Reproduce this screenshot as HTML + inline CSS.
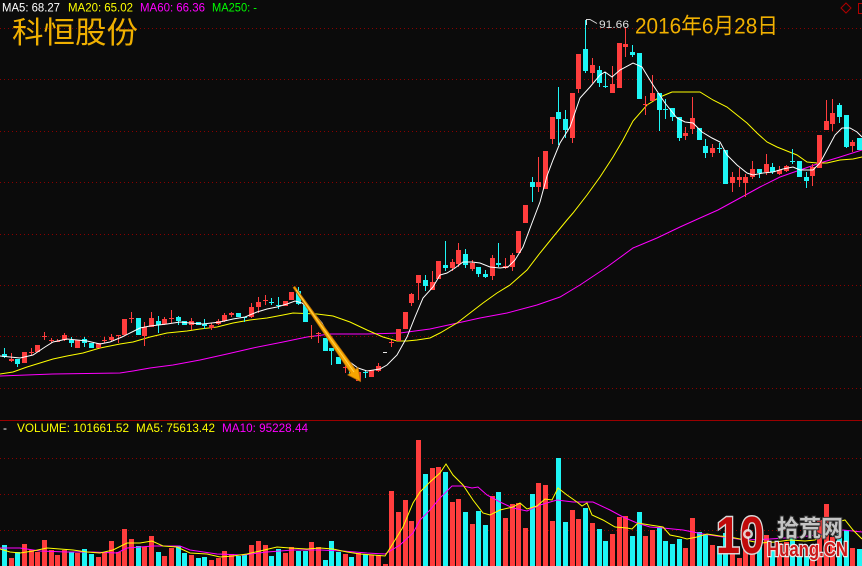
<!DOCTYPE html>
<html><head><meta charset="utf-8"><style>
html,body{margin:0;padding:0;background:#0b0b0b;}
svg{display:block;}
text{font-family:"Liberation Sans","Noto Sans CJK SC",sans-serif;}
</style></head><body>
<svg width="862" height="566" viewBox="0 0 862 566" xmlns="http://www.w3.org/2000/svg">
<rect x="0" y="0" width="862" height="566" fill="#0b0b0b"/>
<g stroke="#8a0000" stroke-width="1" stroke-dasharray="1 3">
<line x1="0" y1="28.5" x2="862" y2="28.5"/>
<line x1="0" y1="79.5" x2="862" y2="79.5"/>
<line x1="0" y1="131.5" x2="862" y2="131.5"/>
<line x1="0" y1="182.5" x2="862" y2="182.5"/>
<line x1="0" y1="234.5" x2="862" y2="234.5"/>
<line x1="0" y1="285.5" x2="862" y2="285.5"/>
<line x1="0" y1="336.5" x2="862" y2="336.5"/>
<line x1="0" y1="388.5" x2="862" y2="388.5"/>
<line x1="0" y1="458.5" x2="862" y2="458.5"/>
<line x1="0" y1="494.5" x2="862" y2="494.5"/>
<line x1="0" y1="530.5" x2="862" y2="530.5"/>
</g>
<rect x="0" y="420" width="862" height="1" fill="#9a0000"/>

<text x="2" y="11.5" font-size="11.5" fill="#ffffff" textLength="58" lengthAdjust="spacingAndGlyphs">MA5: 68.27</text>
<text x="68" y="11.5" font-size="11.5" fill="#ffff00" textLength="65" lengthAdjust="spacingAndGlyphs">MA20: 65.02</text>
<text x="140" y="11.5" font-size="11.5" fill="#ff00ff" textLength="65" lengthAdjust="spacingAndGlyphs">MA60: 66.36</text>
<text x="212" y="11.5" font-size="11.5" fill="#00ff00" textLength="45" lengthAdjust="spacingAndGlyphs">MA250: -</text>
<text x="12" y="43" font-size="30" fill="#f0b000" textLength="126" lengthAdjust="spacingAndGlyphs" style="font-family:'Noto Sans CJK SC',sans-serif">科恒股份</text>
<text x="635" y="33.5" font-size="22" fill="#f0b000" textLength="143" lengthAdjust="spacingAndGlyphs" style="font-family:'Liberation Sans','Noto Sans CJK SC',sans-serif">2016年6月28日</text>
<path d="M846,3 L851,8 L846,13 L841,8 Z" fill="none" stroke="#b00000" stroke-width="1"/>
<rect x="858.5" y="3.5" width="6" height="10" fill="none" stroke="#b00000" stroke-width="1"/>

<polyline fill="none" stroke="#ff00ff" stroke-width="1" points="0,376 53,374 120,373 133,371 150,368 173,365 200,360 227,354 253,348 283,342 307,337 330,334 367,334 400,333 430,329 453,324 480,318 507,313 537,305 560,297 580,285 607,267 633,248 657,238 680,227 700,218 718,210 740,198 760,187 780,177 800,170 820,163 840,157 862,150"/>
<polyline fill="none" stroke="#ffff00" stroke-width="1" points="0,374 13,372 27,367 40,363 53,359 67,356 83,353 100,348 120,344 133,342 150,337 167,333 187,331 200,329 217,327 233,323 250,320 267,318 283,315 293,313 317,314 333,316 350,322 367,330 383,337 397,341 407,341 417,340 430,338 440,333 457,323 470,313 483,303 497,293 510,285 527,270 540,253 553,237 567,220 573,213 587,195 600,177 613,157 623,140 633,121 647,105 660,97 672,92 683,92 700,92 713,100 727,107 737,115 747,123 757,133 767,142 777,147 787,151 797,155 807,162 817,163 827,163 840,160 853,159 862,157"/>

<g fill="#ff3d3d">
<rect x="9" y="359" width="5" height="2"/><rect x="11" y="353" width="1" height="9"/>
<rect x="22" y="352" width="5" height="11"/>
<rect x="29" y="352" width="5" height="1"/><rect x="31" y="348" width="1" height="7"/>
<rect x="35" y="345" width="5" height="7"/>
<rect x="42" y="336" width="5" height="1"/><rect x="44" y="332" width="1" height="8"/>
<rect x="49" y="340" width="5" height="1"/><rect x="51" y="338" width="1" height="5"/>
<rect x="55" y="341" width="5" height="1"/><rect x="57" y="339" width="1" height="3"/>
<rect x="62" y="335" width="5" height="5"/><rect x="64" y="333" width="1" height="8"/>
<rect x="75" y="340" width="5" height="8"/>
<rect x="96" y="343" width="5" height="5"/>
<rect x="102" y="340" width="5" height="1"/><rect x="104" y="337" width="1" height="6"/>
<rect x="109" y="337" width="5" height="3"/><rect x="111" y="334" width="1" height="7"/>
<rect x="116" y="335" width="5" height="1"/><rect x="118" y="335" width="1" height="8"/>
<rect x="122" y="319" width="5" height="16"/>
<rect x="129" y="318" width="5" height="1"/><rect x="131" y="312" width="1" height="11"/>
<rect x="142" y="327" width="5" height="9"/><rect x="144" y="322" width="1" height="24"/>
<rect x="149" y="318" width="5" height="9"/><rect x="151" y="312" width="1" height="15"/>
<rect x="162" y="319" width="5" height="5"/><rect x="164" y="317" width="1" height="8"/>
<rect x="169" y="318" width="5" height="1"/><rect x="171" y="310" width="1" height="13"/>
<rect x="189" y="321" width="5" height="4"/><rect x="191" y="318" width="1" height="12"/>
<rect x="209" y="325" width="5" height="3"/><rect x="211" y="323" width="1" height="7"/>
<rect x="216" y="321" width="5" height="3"/><rect x="218" y="319" width="1" height="6"/>
<rect x="222" y="315" width="5" height="6"/><rect x="224" y="313" width="1" height="9"/>
<rect x="229" y="313" width="5" height="2"/><rect x="231" y="312" width="1" height="5"/>
<rect x="249" y="307" width="5" height="10"/><rect x="251" y="303" width="1" height="15"/>
<rect x="256" y="302" width="5" height="5"/><rect x="258" y="297" width="1" height="16"/>
<rect x="263" y="300" width="5" height="1"/><rect x="265" y="295" width="1" height="10"/>
<rect x="283" y="301" width="5" height="5"/>
<rect x="289" y="292" width="5" height="8"/>
<rect x="309" y="336" width="5" height="1"/><rect x="311" y="325" width="1" height="14"/>
<rect x="316" y="333" width="5" height="1"/><rect x="318" y="332" width="1" height="11"/>
<rect x="343" y="367" width="5" height="1"/><rect x="345" y="365" width="1" height="8"/>
<rect x="356" y="372" width="5" height="9"/>
<rect x="369" y="370" width="5" height="7"/>
<rect x="376" y="366" width="5" height="5"/><rect x="378" y="363" width="1" height="9"/>
<rect x="389" y="342" width="5" height="1"/><rect x="391" y="340" width="1" height="7"/>
<rect x="396" y="329" width="5" height="12"/>
<rect x="403" y="312" width="5" height="17"/>
<rect x="409" y="294" width="5" height="9"/><rect x="411" y="293" width="1" height="13"/>
<rect x="416" y="275" width="5" height="8"/><rect x="418" y="275" width="1" height="25"/>
<rect x="430" y="282" width="5" height="8"/><rect x="432" y="271" width="1" height="19"/>
<rect x="436" y="261" width="5" height="18"/>
<rect x="450" y="262" width="5" height="6"/><rect x="452" y="259" width="1" height="12"/>
<rect x="456" y="250" width="5" height="14"/><rect x="458" y="243" width="1" height="24"/>
<rect x="470" y="263" width="5" height="6"/><rect x="472" y="260" width="1" height="11"/>
<rect x="490" y="258" width="5" height="18"/><rect x="492" y="255" width="1" height="25"/>
<rect x="503" y="266" width="5" height="2"/><rect x="505" y="258" width="1" height="11"/>
<rect x="510" y="255" width="5" height="12"/><rect x="512" y="253" width="1" height="18"/>
<rect x="516" y="231" width="5" height="22"/>
<rect x="523" y="205" width="5" height="18"/>
<rect x="536" y="182" width="5" height="5"/><rect x="538" y="157" width="1" height="35"/>
<rect x="543" y="151" width="5" height="38"/>
<rect x="550" y="117" width="5" height="22"/><rect x="552" y="117" width="1" height="27"/>
<rect x="570" y="93" width="5" height="45"/><rect x="572" y="93" width="1" height="50"/>
<rect x="576" y="54" width="5" height="35"/><rect x="578" y="54" width="1" height="39"/>
<rect x="590" y="65" width="5" height="8"/><rect x="592" y="58" width="1" height="25"/>
<rect x="610" y="84" width="5" height="9"/><rect x="612" y="66" width="1" height="27"/>
<rect x="617" y="43" width="5" height="45"/>
<rect x="623" y="44" width="5" height="3"/><rect x="625" y="27" width="1" height="30"/>
<rect x="643" y="104" width="5" height="1"/><rect x="645" y="96" width="1" height="19"/>
<rect x="650" y="93" width="5" height="8"/><rect x="652" y="75" width="1" height="26"/>
<rect x="683" y="133" width="5" height="3"/><rect x="685" y="127" width="1" height="13"/>
<rect x="690" y="118" width="5" height="11"/><rect x="692" y="97" width="1" height="37"/>
<rect x="710" y="148" width="5" height="5"/><rect x="712" y="144" width="1" height="13"/>
<rect x="730" y="177" width="5" height="6"/><rect x="732" y="172" width="1" height="20"/>
<rect x="737" y="177" width="5" height="3"/><rect x="739" y="168" width="1" height="19"/>
<rect x="743" y="177" width="5" height="6"/><rect x="745" y="174" width="1" height="23"/>
<rect x="750" y="169" width="5" height="8"/><rect x="752" y="161" width="1" height="18"/>
<rect x="764" y="164" width="5" height="8"/><rect x="766" y="154" width="1" height="21"/>
<rect x="777" y="170" width="5" height="4"/><rect x="779" y="166" width="1" height="9"/>
<rect x="784" y="166" width="5" height="5"/><rect x="786" y="165" width="1" height="7"/>
<rect x="810" y="167" width="5" height="9"/><rect x="812" y="164" width="1" height="22"/>
<rect x="817" y="135" width="5" height="33"/>
<rect x="824" y="121" width="5" height="9"/><rect x="826" y="100" width="1" height="30"/>
<rect x="830" y="113" width="5" height="11"/><rect x="832" y="99" width="1" height="32"/>
<rect x="850" y="142" width="5" height="4"/><rect x="852" y="140" width="1" height="12"/>
</g>
<g fill="#1ef5f5">
<rect x="2" y="354" width="5" height="3"/><rect x="4" y="348" width="1" height="10"/>
<rect x="15" y="359" width="5" height="5"/><rect x="17" y="359" width="1" height="8"/>
<rect x="69" y="340" width="5" height="3"/><rect x="71" y="337" width="1" height="10"/>
<rect x="82" y="339" width="5" height="4"/><rect x="84" y="337" width="1" height="10"/>
<rect x="89" y="343" width="5" height="5"/>
<rect x="136" y="318" width="5" height="17"/>
<rect x="156" y="321" width="5" height="4"/><rect x="158" y="316" width="1" height="17"/>
<rect x="176" y="317" width="5" height="4"/><rect x="178" y="316" width="1" height="9"/>
<rect x="182" y="321" width="5" height="4"/>
<rect x="196" y="322" width="5" height="3"/>
<rect x="202" y="324" width="5" height="2"/><rect x="204" y="319" width="1" height="10"/>
<rect x="236" y="313" width="5" height="4"/>
<rect x="242" y="317" width="5" height="1"/><rect x="244" y="317" width="1" height="5"/>
<rect x="269" y="302" width="5" height="1"/><rect x="271" y="298" width="1" height="7"/>
<rect x="276" y="305" width="5" height="1"/><rect x="278" y="297" width="1" height="12"/>
<rect x="296" y="291" width="5" height="13"/><rect x="298" y="287" width="1" height="18"/>
<rect x="303" y="305" width="5" height="17"/>
<rect x="323" y="338" width="5" height="13"/>
<rect x="329" y="348" width="5" height="3"/><rect x="331" y="348" width="1" height="17"/>
<rect x="336" y="357" width="5" height="7"/>
<rect x="349" y="370" width="5" height="5"/>
<rect x="363" y="372" width="5" height="1"/><rect x="365" y="370" width="1" height="8"/>
<rect x="423" y="280" width="5" height="6"/><rect x="425" y="275" width="1" height="16"/>
<rect x="443" y="265" width="5" height="3"/><rect x="445" y="241" width="1" height="30"/>
<rect x="463" y="254" width="5" height="11"/><rect x="465" y="249" width="1" height="19"/>
<rect x="476" y="267" width="5" height="7"/><rect x="478" y="267" width="1" height="10"/>
<rect x="483" y="274" width="5" height="3"/><rect x="485" y="270" width="1" height="8"/>
<rect x="496" y="263" width="5" height="2"/><rect x="498" y="243" width="1" height="24"/>
<rect x="530" y="182" width="5" height="5"/><rect x="532" y="177" width="1" height="25"/>
<rect x="556" y="112" width="5" height="7"/><rect x="558" y="87" width="1" height="58"/>
<rect x="563" y="119" width="5" height="11"/><rect x="565" y="110" width="1" height="28"/>
<rect x="583" y="49" width="5" height="22"/><rect x="585" y="20" width="1" height="53"/>
<rect x="597" y="70" width="5" height="13"/><rect x="599" y="66" width="1" height="21"/>
<rect x="603" y="86" width="5" height="1"/><rect x="605" y="72" width="1" height="16"/>
<rect x="630" y="52" width="5" height="3"/><rect x="632" y="45" width="1" height="12"/>
<rect x="637" y="53" width="5" height="46"/>
<rect x="657" y="93" width="5" height="17"/><rect x="659" y="93" width="1" height="38"/>
<rect x="663" y="109" width="5" height="1"/><rect x="665" y="99" width="1" height="20"/>
<rect x="670" y="108" width="5" height="9"/><rect x="672" y="108" width="1" height="13"/>
<rect x="677" y="117" width="5" height="21"/><rect x="679" y="117" width="1" height="24"/>
<rect x="697" y="128" width="5" height="12"/>
<rect x="703" y="146" width="5" height="7"/><rect x="705" y="139" width="1" height="19"/>
<rect x="717" y="148" width="5" height="1"/><rect x="719" y="143" width="1" height="10"/>
<rect x="723" y="150" width="5" height="34"/>
<rect x="757" y="169" width="5" height="4"/><rect x="759" y="169" width="1" height="9"/>
<rect x="770" y="167" width="5" height="5"/><rect x="772" y="163" width="1" height="11"/>
<rect x="790" y="161" width="5" height="1"/><rect x="792" y="149" width="1" height="15"/>
<rect x="797" y="161" width="5" height="16"/>
<rect x="804" y="177" width="5" height="4"/><rect x="806" y="172" width="1" height="16"/>
<rect x="837" y="105" width="5" height="12"/><rect x="839" y="103" width="1" height="20"/>
<rect x="844" y="115" width="5" height="32"/><rect x="846" y="115" width="1" height="33"/>
<rect x="857" y="138" width="5" height="12"/>
</g>
<rect x="383" y="352" width="4" height="1" fill="#e8e8e8"/>

<polyline fill="none" stroke="#ffffff" stroke-width="1" points="0,356 20,358 33,355 45,347 53,342 67,339 87,341 100,344 110,342 122,337 132,332 140,328 150,326 167,324 180,322 190,323 203,324 220,322 233,319 245,317 257,312 267,309 277,307 287,304 295,301 302,303 312,311 322,323 333,343 347,360 358,368 367,371 380,369 387,365 397,355 407,337 415,317 423,298 433,287 440,275 447,273 455,268 463,262 472,262 480,263 490,267 500,268 508,267 515,260 523,247 532,223 540,202 547,176 553,160 560,143 570,127 580,98 590,87 600,75 605,72 612,77 620,70 633,63 642,67 653,85 665,103 677,118 685,122 693,123 702,132 712,138 720,142 727,155 737,165 747,173 753,175 763,173 773,172 783,169 793,167 800,170 813,170 820,163 827,150 835,135 842,128 850,128 857,132 862,137"/>

<polyline fill="none" stroke="#d8d8d8" stroke-width="1" points="586.5,25 586.5,19.5 590,19.5 597,23.5"/>
<text x="599" y="28" font-size="11" fill="#e0e0e0" textLength="30" lengthAdjust="spacingAndGlyphs">91.66</text>

<polygon points="293.2,287.6 350.6,372.9 347.8,374.9 360.5,381.5 358.0,367.5 355.5,369.4 294.8,286.4" fill="#f5a500" stroke="#b86e00" stroke-width="0.8"/>
<line x1="296" y1="290" x2="354" y2="372" stroke="#ffd24a" stroke-width="1"/>

<text x="3" y="432" font-size="12" fill="#ffffff">-</text>
<text x="17" y="432" font-size="12" fill="#ffff00" textLength="112" lengthAdjust="spacingAndGlyphs">VOLUME: 101661.52</text>
<text x="136" y="432" font-size="12" fill="#ffff00" textLength="79" lengthAdjust="spacingAndGlyphs">MA5: 75613.42</text>
<text x="222" y="432" font-size="12" fill="#ff00ff" textLength="86" lengthAdjust="spacingAndGlyphs">MA10: 95228.44</text>

<g fill="#ff3d3d">
<rect x="9" y="558" width="5" height="8"/>
<rect x="22" y="544" width="5" height="22"/>
<rect x="29" y="550" width="5" height="16"/>
<rect x="35" y="552" width="5" height="14"/>
<rect x="42" y="540" width="5" height="26"/>
<rect x="49" y="550" width="5" height="16"/>
<rect x="55" y="555" width="5" height="11"/>
<rect x="62" y="550" width="5" height="16"/>
<rect x="75" y="553" width="5" height="13"/>
<rect x="96" y="557" width="5" height="9"/>
<rect x="102" y="552" width="5" height="14"/>
<rect x="109" y="541" width="5" height="25"/>
<rect x="116" y="552" width="5" height="14"/>
<rect x="122" y="529" width="5" height="37"/>
<rect x="129" y="539" width="5" height="27"/>
<rect x="142" y="547" width="5" height="19"/>
<rect x="149" y="536" width="5" height="30"/>
<rect x="162" y="556" width="5" height="10"/>
<rect x="169" y="548" width="5" height="18"/>
<rect x="189" y="555" width="5" height="11"/>
<rect x="209" y="560" width="5" height="6"/>
<rect x="216" y="558" width="5" height="8"/>
<rect x="222" y="551" width="5" height="15"/>
<rect x="229" y="554" width="5" height="12"/>
<rect x="249" y="545" width="5" height="21"/>
<rect x="256" y="541" width="5" height="25"/>
<rect x="263" y="545" width="5" height="21"/>
<rect x="283" y="553" width="5" height="13"/>
<rect x="289" y="547" width="5" height="19"/>
<rect x="309" y="542" width="5" height="24"/>
<rect x="316" y="547" width="5" height="19"/>
<rect x="343" y="554" width="5" height="12"/>
<rect x="356" y="553" width="5" height="13"/>
<rect x="369" y="555" width="5" height="11"/>
<rect x="376" y="555" width="5" height="11"/>
<rect x="383" y="564" width="5" height="2"/>
<rect x="389" y="491" width="5" height="75"/>
<rect x="396" y="512" width="5" height="54"/>
<rect x="403" y="500" width="5" height="66"/>
<rect x="409" y="521" width="5" height="45"/>
<rect x="416" y="440" width="5" height="126"/>
<rect x="430" y="468" width="5" height="98"/>
<rect x="436" y="467" width="5" height="99"/>
<rect x="450" y="502" width="5" height="64"/>
<rect x="456" y="499" width="5" height="67"/>
<rect x="470" y="524" width="5" height="42"/>
<rect x="490" y="496" width="5" height="70"/>
<rect x="503" y="518" width="5" height="48"/>
<rect x="510" y="504" width="5" height="62"/>
<rect x="516" y="503" width="5" height="63"/>
<rect x="523" y="528" width="5" height="38"/>
<rect x="536" y="483" width="5" height="83"/>
<rect x="543" y="485" width="5" height="81"/>
<rect x="550" y="521" width="5" height="45"/>
<rect x="570" y="510" width="5" height="56"/>
<rect x="576" y="519" width="5" height="47"/>
<rect x="590" y="523" width="5" height="43"/>
<rect x="610" y="534" width="5" height="32"/>
<rect x="617" y="517" width="5" height="49"/>
<rect x="623" y="516" width="5" height="50"/>
<rect x="643" y="536" width="5" height="30"/>
<rect x="650" y="530" width="5" height="36"/>
<rect x="683" y="548" width="5" height="18"/>
<rect x="690" y="518" width="5" height="48"/>
<rect x="710" y="545" width="5" height="21"/>
<rect x="730" y="550" width="5" height="16"/>
<rect x="737" y="558" width="5" height="8"/>
<rect x="743" y="548" width="5" height="18"/>
<rect x="750" y="553" width="5" height="13"/>
<rect x="764" y="535" width="5" height="31"/>
<rect x="777" y="543" width="5" height="23"/>
<rect x="784" y="542" width="5" height="24"/>
<rect x="810" y="547" width="5" height="19"/>
<rect x="817" y="520" width="5" height="46"/>
<rect x="824" y="504" width="5" height="62"/>
<rect x="830" y="537" width="5" height="29"/>
<rect x="850" y="548" width="5" height="18"/>
</g>
<g fill="#1ef5f5">
<rect x="2" y="545" width="5" height="21"/>
<rect x="15" y="552" width="5" height="14"/>
<rect x="69" y="552" width="5" height="14"/>
<rect x="82" y="549" width="5" height="17"/>
<rect x="89" y="554" width="5" height="12"/>
<rect x="136" y="546" width="5" height="20"/>
<rect x="156" y="552" width="5" height="14"/>
<rect x="176" y="546" width="5" height="20"/>
<rect x="182" y="553" width="5" height="13"/>
<rect x="196" y="558" width="5" height="8"/>
<rect x="202" y="557" width="5" height="9"/>
<rect x="236" y="556" width="5" height="10"/>
<rect x="242" y="555" width="5" height="11"/>
<rect x="269" y="556" width="5" height="10"/>
<rect x="276" y="549" width="5" height="17"/>
<rect x="296" y="551" width="5" height="15"/>
<rect x="303" y="551" width="5" height="15"/>
<rect x="323" y="560" width="5" height="6"/>
<rect x="329" y="541" width="5" height="25"/>
<rect x="336" y="552" width="5" height="14"/>
<rect x="349" y="557" width="5" height="9"/>
<rect x="363" y="554" width="5" height="12"/>
<rect x="423" y="474" width="5" height="92"/>
<rect x="443" y="472" width="5" height="94"/>
<rect x="463" y="512" width="5" height="54"/>
<rect x="476" y="511" width="5" height="55"/>
<rect x="483" y="525" width="5" height="41"/>
<rect x="496" y="492" width="5" height="74"/>
<rect x="530" y="494" width="5" height="72"/>
<rect x="556" y="458" width="5" height="108"/>
<rect x="563" y="522" width="5" height="44"/>
<rect x="583" y="508" width="5" height="58"/>
<rect x="597" y="529" width="5" height="37"/>
<rect x="603" y="541" width="5" height="25"/>
<rect x="630" y="536" width="5" height="30"/>
<rect x="637" y="512" width="5" height="54"/>
<rect x="657" y="527" width="5" height="39"/>
<rect x="663" y="541" width="5" height="25"/>
<rect x="670" y="544" width="5" height="22"/>
<rect x="677" y="539" width="5" height="27"/>
<rect x="697" y="532" width="5" height="34"/>
<rect x="703" y="534" width="5" height="32"/>
<rect x="717" y="546" width="5" height="20"/>
<rect x="723" y="533" width="5" height="33"/>
<rect x="757" y="547" width="5" height="19"/>
<rect x="770" y="547" width="5" height="19"/>
<rect x="790" y="537" width="5" height="29"/>
<rect x="797" y="547" width="5" height="19"/>
<rect x="804" y="547" width="5" height="19"/>
<rect x="837" y="530" width="5" height="36"/>
<rect x="844" y="530" width="5" height="36"/>
<rect x="857" y="549" width="5" height="17"/>
</g>
<polyline fill="none" stroke="#ff00ff" stroke-width="1" points="0,548 20,548 40,551 67,552 93,552 117,553 127,548 153,546 180,546 190,550 217,554 243,555 267,552 293,550 320,550 343,551 367,553 385,554 400,545 413,533 420,520 430,510 440,498 452,486 463,486 472,488 478,487 487,495 500,502 513,508 527,511 540,505 557,500 573,502 593,502 610,510 623,517 637,523 650,527 663,528 683,530 703,534 723,537 745,540 770,539 800,537 825,534 843,530 862,532"/>
<polyline fill="none" stroke="#ffff00" stroke-width="1" points="0,549 10,552 20,553 33,551 47,548 60,549 73,550 87,552 100,553 113,550 127,543 140,543 152,541 163,546 177,547 190,553 207,554 220,557 233,556 247,554 260,551 277,547 290,548 307,549 320,548 333,549 347,552 360,554 373,555 385,556 392,545 403,527 413,503 420,492 430,482 440,473 446,464 453,475 463,485 473,500 483,513 490,515 500,510 513,507 520,503 527,509 537,506 545,499 552,500 558,488 567,495 577,502 582,506 587,503 592,515 603,520 615,527 627,528 632,529 638,523 650,525 663,527 670,535 680,537 687,539 697,537 707,534 720,536 730,537 745,540 760,543 775,542 790,540 805,541 815,540 823,535 837,522 845,520 853,530 862,539"/>

<text x="716" y="553" font-size="52" font-weight="bold" fill="none" stroke="#d8d8d8" stroke-width="3" textLength="48" lengthAdjust="spacingAndGlyphs">10</text>
<text x="716" y="553" font-size="52" font-weight="bold" fill="#c00a0a" textLength="48" lengthAdjust="spacingAndGlyphs">10</text>
<circle cx="748" cy="534" r="5" fill="#f0f0f0" opacity="0.85"/>
<circle cx="748" cy="534" r="2.5" fill="#c00a0a"/>
<text x="777" y="536" font-size="23" font-weight="bold" fill="none" stroke="#333" stroke-width="2" textLength="66" lengthAdjust="spacingAndGlyphs" style="font-family:'Noto Sans CJK SC',sans-serif">拾荒网</text>
<text x="777" y="536" font-size="23" font-weight="bold" fill="#c4c4c4" textLength="66" lengthAdjust="spacingAndGlyphs" style="font-family:'Noto Sans CJK SC',sans-serif">拾荒网</text>
<text x="767" y="556" font-size="20" font-weight="bold" fill="none" stroke="#e6e6e6" stroke-width="2.5" textLength="81" lengthAdjust="spacingAndGlyphs">Huang.CN</text>
<text x="767" y="556" font-size="20" font-weight="bold" fill="#cc1818" textLength="81" lengthAdjust="spacingAndGlyphs">Huang.CN</text>
</svg>
</body></html>
